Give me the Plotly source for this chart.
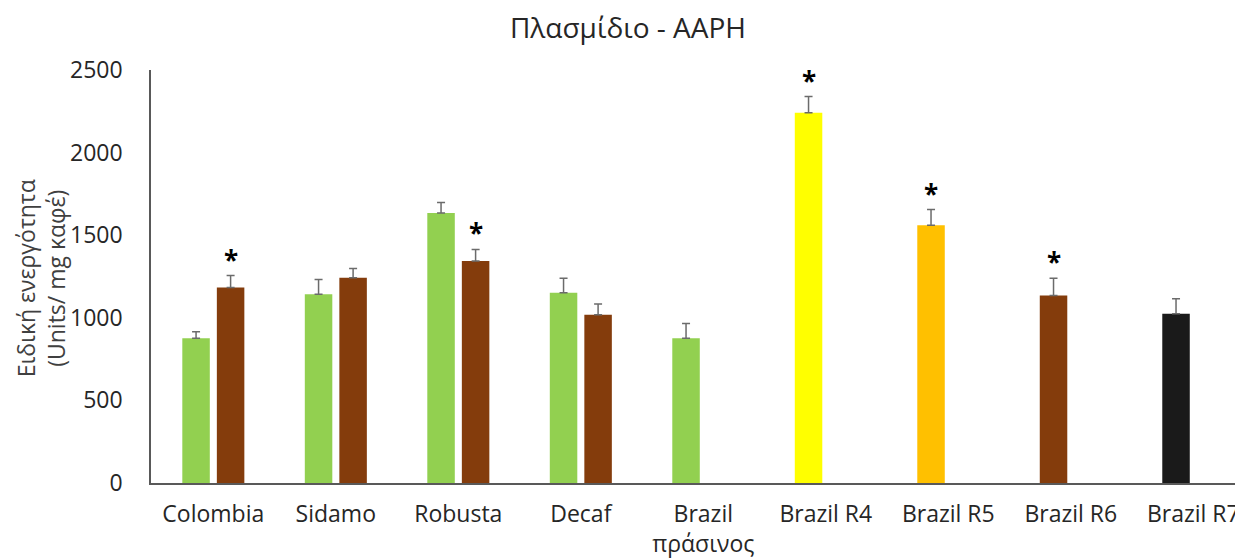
import plotly.graph_objects as go

# ---- data ----
categories = ["Colombia", "Sidamo", "Robusta", "Decaf", "Brazil<br>πράσινος",
              "Brazil R4", "Brazil R5", "Brazil R6", "Brazil R7"]
values_a = [876, 1143, 1635, 1151, 876, 2241, 1560, 1135, 1025]
errors_a = [40, 89, 63, 89, 89, 98, 95, 105, 90]
values_b = [1183, 1242, 1344, 1018, None, None, None, None, None]
errors_b = [73, 57, 70, 66, 0, 0, 0, 0, 0]
signif_a = [False, False, False, False, False, True, True, True, False]
signif_b = [True, False, True, False, False, False, False, False, False]
yticks = [0, 500, 1000, 1500, 2000, 2500]

GREEN, BROWN, YELLOW, ORANGE, BLACK = "#92D050", "#843C0C", "#FFFF00", "#FFC000", "#1A1A1A"
colors_a = [GREEN, GREEN, GREEN, GREEN, GREEN, YELLOW, ORANGE, BROWN, BLACK]

FONT = "Open Sans"
BAR_W = 0.2245
OFF_A = -0.253
OFF_B = 0.029
ERR_COLOR = "#6B6B6B"

fig = go.Figure()
fig.add_trace(go.Bar(
    x=categories, y=values_a, marker=dict(color=colors_a, line=dict(width=0)),
    width=BAR_W, offset=OFF_A,
    error_y=dict(type="data", symmetric=False, array=errors_a,
                 arrayminus=[0] * len(errors_a), color=ERR_COLOR, thickness=1.5, width=4),
    showlegend=False))
fig.add_trace(go.Bar(
    x=categories, y=values_b, marker=dict(color=BROWN, line=dict(width=0)),
    width=BAR_W, offset=OFF_B,
    error_y=dict(type="data", symmetric=False, array=errors_b,
                 arrayminus=[0] * len(errors_b), color=ERR_COLOR, thickness=1.5, width=4),
    showlegend=False))

annotations = []
star_font = dict(family=FONT, size=26, color="black")
for i in range(len(categories)):
    if signif_a[i]:
        annotations.append(dict(x=i + OFF_A + BAR_W / 2, y=values_a[i] + errors_a[i],
                                xref="x", yref="y", text="<b>*</b>", showarrow=False,
                                yanchor="middle", yshift=16, font=star_font))
    if signif_b[i]:
        annotations.append(dict(x=i + OFF_B + BAR_W / 2, y=values_b[i] + errors_b[i],
                                xref="x", yref="y", text="<b>*</b>", showarrow=False,
                                yanchor="middle", yshift=16, font=star_font))

# y-axis title
annotations.append(dict(text="Ειδική ενεργότητα<br>(Units/ mg καφέ)", textangle=-90,
                        xref="paper", yref="paper", x=-(151 - 41) / 1092, y=(482.7 - 278) / 413,
                        xanchor="center", yanchor="middle", showarrow=False, borderpad=0,
                        font=dict(family=FONT, size=23, color="#404040")))

# page body has an 8px margin; figure sized/offset to compensate
fig.update_layout(
    width=1235, height=550,
    margin=dict(l=143, r=0, t=62, b=75, pad=0),
    plot_bgcolor="white", paper_bgcolor="white",
    font=dict(family=FONT, size=23, color="#404040"),
    title=dict(text="Πλασμίδιο - AAPH", x=620 / 1235, xref="container", xanchor="center",
               y=1 - 20 / 550, yref="container", yanchor="middle",
               font=dict(family=FONT, size=28, color="#262626")),
    barmode="overlay",
    annotations=annotations,
    xaxis=dict(type="category", range=[-0.5086, 8.406], showgrid=False, showline=True,
               linecolor="#595959", linewidth=1.5, ticks="", ticklabelstandoff=10,
               tickfont=dict(family=FONT, size=23, color="#262626"), zeroline=False),
    yaxis=dict(range=[0, 2500], tickvals=yticks, showgrid=False, showline=True,
               linecolor="#595959", linewidth=1.5, ticks="", ticklabelstandoff=22,
               tickfont=dict(family=FONT, size=23, color="#262626"), zeroline=False),
)

fig.write_html("out.html")
